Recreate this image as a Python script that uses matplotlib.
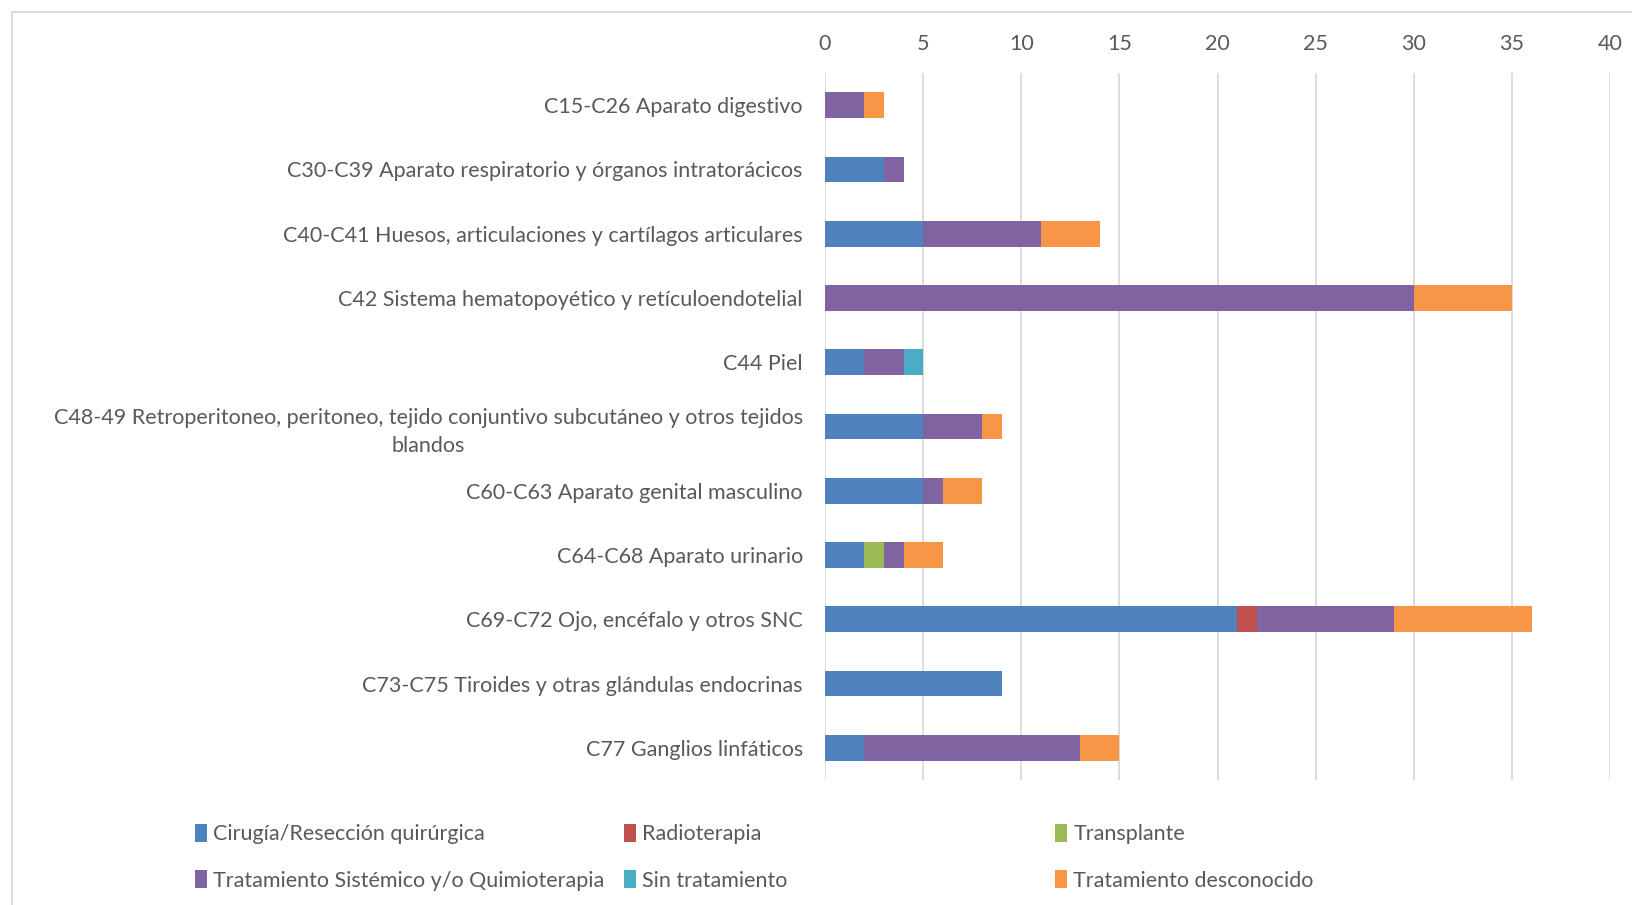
import numpy as np
import matplotlib.pyplot as plt
from matplotlib.patches import Rectangle, Patch

# data
categorias = [
    'C15-C26 Aparato digestivo',
    'C30-C39 Aparato respiratorio y órganos intratorácicos',
    'C40-C41 Huesos, articulaciones y cartílagos articulares',
    'C42 Sistema hematopoyético y retículoendotelial',
    'C44 Piel',
    'C48-49 Retroperitoneo, peritoneo, tejido conjuntivo subcutáneo y otros tejidos\nblandos',
    'C60-C63 Aparato genital masculino',
    'C64-C68 Aparato urinario',
    'C69-C72 Ojo, encéfalo y otros SNC',
    'C73-C75 Tiroides y otras glándulas endocrinas',
    'C77 Ganglios linfáticos',
]
cirugia      = [0, 3, 5, 0, 2, 5, 5, 2, 21, 9, 2]
radioterapia = [0, 0, 0, 0, 0, 0, 0, 0, 1, 0, 0]
transplante  = [0, 0, 0, 0, 0, 0, 0, 1, 0, 0, 0]
sistemico    = [2, 1, 6, 30, 2, 3, 1, 1, 7, 0, 11]
sin_trat     = [0, 0, 0, 0, 1, 0, 0, 0, 0, 0, 0]
desconocido  = [1, 0, 3, 5, 0, 1, 2, 2, 7, 0, 2]

series = [
    ('Cirugía/Resección quirúrgica', cirugia, '#4F81BD'),
    ('Radioterapia', radioterapia, '#C0504D'),
    ('Transplante', transplante, '#9BBB59'),
    ('Tratamiento Sistémico y/o Quimioterapia', sistemico, '#8064A2'),
    ('Sin tratamiento', sin_trat, '#4BACC6'),
    ('Tratamiento desconocido', desconocido, '#F79646'),
]

plt.rcParams['font.family'] = ['Lato', 'DejaVu Sans']
txt = '#595959'
fs = 15.5

W, H = 1632, 905
fig = plt.figure(figsize=(W / 100, H / 100), dpi=100)
ax = fig.add_axes([825 / W, 1 - 780 / H, (1610 - 825) / W, (780 - 73) / H])

y = np.arange(len(categorias))
left = np.zeros(len(categorias))
for nombre, vals, col in series:
    vals = np.array(vals, dtype=float)
    ax.barh(y, vals, left=left, height=0.4, color=col, zorder=3)
    left += vals

ax.set_xlim(0, 40)
ax.set_ylim(len(categorias) - 0.5, -0.5)
ax.set_xticks(np.arange(0, 41, 5))
ax.set_yticks(y)
ax.set_yticklabels(categorias)
for lab in ax.get_yticklabels():
    lab.set_multialignment('center')
    lab.set_linespacing(1.5)
ax.xaxis.tick_top()
ax.tick_params(axis='x', length=0, pad=14, labelsize=fs, colors=txt)
ax.tick_params(axis='y', length=0, pad=16, labelsize=fs, colors=txt)
ax.grid(axis='x', color='#D9D9D9', linewidth=1.3, zorder=0)
for s in ax.spines.values():
    s.set_visible(False)

# chart area border
fig.add_artist(Rectangle((12 / W, -0.1), 1.2, 1 - 12 / H + 0.1, transform=fig.transFigure,
                         fill=False, edgecolor='#D9D9D9', linewidth=1.3))

# legend, three columns placed like the original
cols = [(195, [series[0], series[3]]),
        (624, [series[1], series[4]]),
        (1055, [series[2], series[5]])]
for x0, items in cols:
    handles = [Patch(facecolor=c, edgecolor='none') for _, _, c in items]
    labels = [n for n, _, _ in items]
    fig.legend(handles, labels, loc='upper left', bbox_to_anchor=(x0 / W, 1 - 824 / H),
               frameon=False, fontsize=fs, labelcolor=txt, handlelength=0.55,
               handleheight=0.9, handletextpad=0.3, borderpad=0, borderaxespad=0,
               labelspacing=1.2)

fig.savefig('out.png', dpi=100, facecolor='white')
